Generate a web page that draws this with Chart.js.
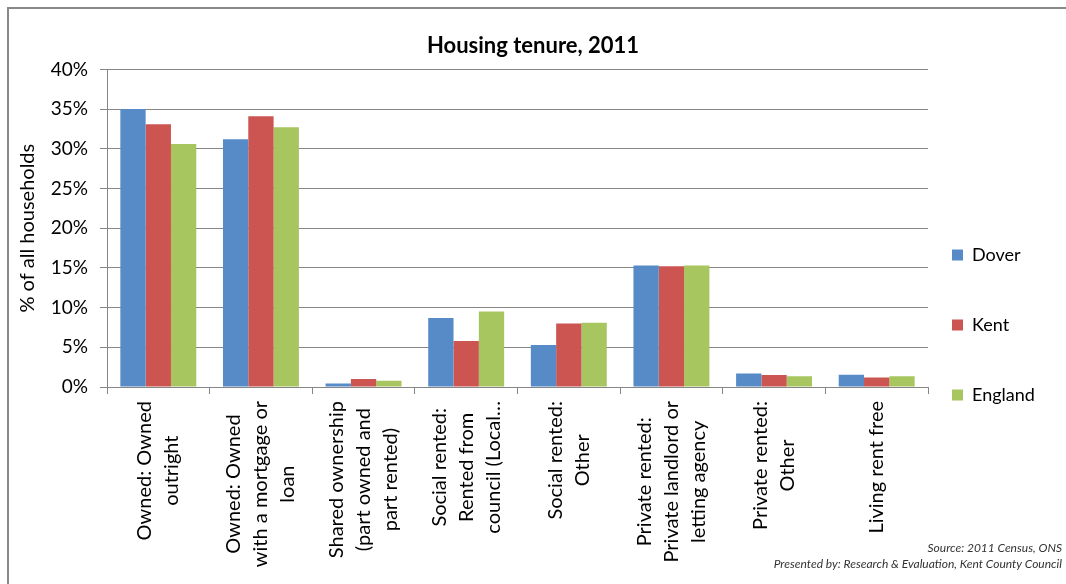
<!DOCTYPE html>
<html>
<head>
<meta charset="utf-8">
<script src="https://cdn.jsdelivr.net/npm/chart.js@4.4.0/dist/chart.umd.min.js"></script>
<style>
  html, body { margin: 0; padding: 0; background: #fff; overflow: hidden; }
  #tenureChart { display: block; }
</style>
</head>
<body>
<canvas id="tenureChart" width="1066" height="584"></canvas>
<script>
var categories = [
  ["Owned: Owned", "outright"],
  ["Owned: Owned", "with a mortgage or", "loan"],
  ["Shared ownership", "(part owned and", "part rented)"],
  ["Social rented:", "Rented from", "council (Local\u2026"],
  ["Social rented:", "Other"],
  ["Private rented:", "Private landlord or", "letting agency"],
  ["Private rented:", "Other"],
  ["Living rent free"]
];
var dover = [35.0, 31.2, 0.45, 8.7, 5.3, 15.3, 1.7, 1.55];
var kent = [33.1, 34.1, 1.0, 5.8, 8.0, 15.2, 1.5, 1.2];
var england = [30.6, 32.7, 0.8, 9.5, 8.1, 15.3, 1.35, 1.35];
var sourceNote = ["Source: 2011 Census, ONS", "Presented by: Research & Evaluation, Kent County Council"];

var gridGrey = "#868686";

// outer frame: only top and left edges show in the picture
var chartFrame = {
  id: "chartFrame",
  beforeDraw(chart) {
    let ctx = chart.ctx;
    ctx.save();
    ctx.strokeStyle = "#888";
    ctx.lineWidth = 2;
    ctx.beginPath();
    ctx.moveTo(8, chart.height);
    ctx.lineTo(8, 8);
    ctx.lineTo(chart.width, 8);
    ctx.stroke();
    ctx.restore();
  },
};

// x labels: rotated, longest line starts just under the axis, others centred on it
var tenureLabels = {
  id: "tenureLabels",
  afterDraw(chart) {
    let ctx = chart.ctx;
    let xs = chart.scales.x;
    ctx.save();
    ctx.font = "20px Lato";
    ctx.fillStyle = "#000";
    ctx.textAlign = "center";
    ctx.textBaseline = "middle";
    chart.data.labels.forEach((lines, i) => {
      let x = xs.getPixelForTick(i);
      let longest = Math.max(...lines.map((l) => ctx.measureText(l).width));
      let y = xs.bottom - 183 + longest / 2;
      lines.forEach((line, j) => {
        ctx.save();
        ctx.translate(x + (j - (lines.length - 1) / 2) * 27, y);
        ctx.rotate(-Math.PI / 2);
        ctx.fillText(line, 0, 0);
        ctx.restore();
      });
    });
    ctx.font = "italic 12px Lato";
    ctx.fillStyle = "#333";
    ctx.textAlign = "right";
    ctx.fillText(sourceNote[0], 1062, 548);
    ctx.fillText(sourceNote[1], 1062, 564);
    ctx.restore();
  },
};

var legendNudge = {
  id: "legendNudge",
  afterLayout(chart) {
    let lg = chart.legend;
    lg.left -= 28;
    lg.right -= 28;
    lg.top += 33;
    lg.bottom += 33;
  },
};

var ctx = document.getElementById("tenureChart").getContext("2d");
var tenureChart = new Chart(ctx, {
  type: "bar",
  data: {
    labels: categories,
    datasets: [
      { label: "Dover", data: dover, backgroundColor: "#568BC8" },
      { label: "Kent", data: kent, backgroundColor: "#CC5552" },
      { label: "England", data: england, backgroundColor: "#A7C660" },
    ],
  },
  options: {
    responsive: false,
    animation: false,
    categoryPercentage: 0.74,
    barPercentage: 1,
    layout: { padding: 0 },
    scales: {
      x: {
        ticks: { display: false },
        grid: { offset: true, drawOnChartArea: false, tickLength: 7, color: gridGrey },
        border: { color: gridGrey },
        afterFit(s) {
          s.height = 197;
        },
      },
      y: {
        min: 0,
        max: 40,
        ticks: {
          stepSize: 5,
          padding: 12,
          color: "#000",
          font: { family: "Lato", size: 19 },
          callback: (v) => v + "%",
        },
        grid: { color: gridGrey, tickLength: 7 },
        border: { color: gridGrey },
        title: {
          display: true,
          text: "% of all households",
          color: "#000",
          font: { family: "Lato", size: 20 },
          padding: { top: 16 },
        },
        afterFit(s) {
          s.width = 107;
        },
      },
    },
    plugins: {
      title: {
        display: true,
        text: "Housing tenure, 2011",
        color: "#000",
        font: { family: "Lato", size: 22, weight: "bold" },
        padding: { top: 33, bottom: 10 },
      },
      legend: {
        position: "right",
        maxWidth: 138,
        labels: {
          boxWidth: 11,
          boxHeight: 11,
          padding: 52,
          color: "#000",
          font: { family: "Lato", size: 18 },
        },
      },
      tooltip: { enabled: false },
    },
  },
  plugins: [chartFrame, tenureLabels, legendNudge],
});
</script>
</body>
</html>
